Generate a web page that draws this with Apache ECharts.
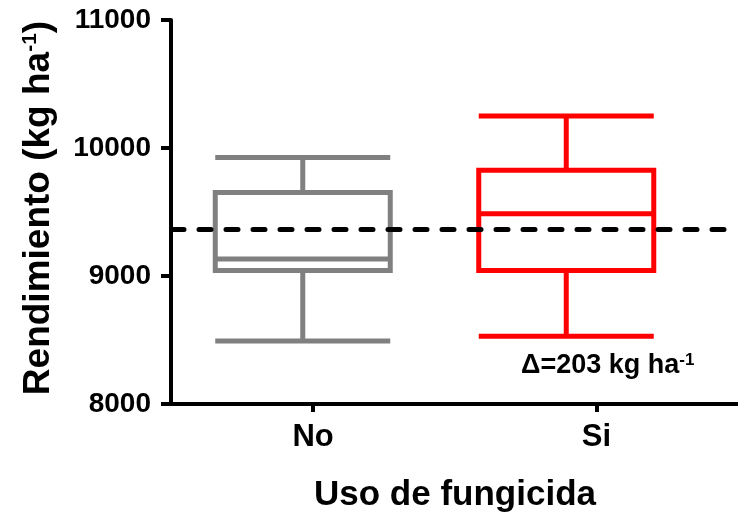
<!DOCTYPE html>
<html>
<head>
<meta charset="utf-8">
<script src="https://cdn.jsdelivr.net/npm/echarts@6/dist/echarts.min.js"></script>
<style>
html,body{margin:0;padding:0;background:#fff;}
#chart{width:738px;height:521px;}
</style>
</head>
<body>
<div id="chart"></div>
<script>
// ---- data ----
const categories = ['No', 'Si'];
// [min, Q1, median, Q3, max]
const noStats = [8492, 9042, 9133, 9652, 9925];
const siStats = [8529, 9042, 9487, 9826, 10250];
const referenceLine = 9362;
const yMin = 8000, yMax = 11000, yStep = 1000;
const deltaText = 'Δ=203 kg ha';

const boxColors = ['#808080', '#ff0000'];
const FONT = '"Liberation Sans", Arial, sans-serif';

const chart = echarts.init(document.getElementById('chart'), null, {renderer: 'canvas'});

const option = {
  animation: false,
  backgroundColor: '#ffffff',
  grid: [
    {left: 171, right: 40, top: 20, bottom: 117},     // boxes
    {left: 171.5, right: -7.5, top: 20, bottom: 117}, // category labels & ticks
    {left: 172, right: -3, top: 20, bottom: 117}      // axis line, name, reference line
  ],
  xAxis: [
    {type: 'category', gridIndex: 0, data: categories, show: false},
    {
      type: 'category', gridIndex: 1, data: categories,
      axisLine: {show: false},
      axisTick: {show: true, alignWithLabel: true, length: 8, lineStyle: {color: '#000', width: 4}},
      axisLabel: {color: '#000', fontSize: 31, fontWeight: 'bold', fontFamily: FONT, margin: 18},
      splitLine: {show: false}
    },
    {
      type: 'category', gridIndex: 2, data: categories,
      axisLine: {show: true, lineStyle: {color: '#000', width: 4}},
      axisTick: {show: false},
      axisLabel: {show: false},
      splitLine: {show: false},
      name: 'Uso de fungicida',
      nameLocation: 'middle',
      nameGap: 74,
      nameTextStyle: {color: '#000', fontSize: 35, fontWeight: 'bold', fontFamily: FONT}
    }
  ],
  yAxis: [
    {
      type: 'value', gridIndex: 0, min: yMin, max: yMax, interval: yStep,
      axisLine: {show: true, lineStyle: {color: '#000', width: 4}},
      axisTick: {show: true, length: 10, lineStyle: {color: '#000', width: 4}},
      axisLabel: {
        color: '#000', fontSize: 28, fontWeight: 'bold', fontFamily: FONT, margin: 20,
        formatter: v => String(v)
      },
      splitLine: {show: false},
      name: '{m|Rendimiento (kg ha}{s|-1}{m|)}',
      nameLocation: 'middle',
      nameGap: 114,
      nameTextStyle: {
        color: '#000', fontFamily: FONT, fontWeight: 'bold',
        padding: [0, 0, 0, 8],
        rich: {
          m: {fontSize: 37, fontWeight: 'bold', fontFamily: FONT, color: '#000'},
          s: {fontSize: 21, fontWeight: 'bold', fontFamily: FONT, color: '#000', verticalAlign: 'top', padding: [0, 0, 15, 0]}
        }
      }
    },
    {type: 'value', gridIndex: 1, min: yMin, max: yMax, interval: yStep, show: false},
    {type: 'value', gridIndex: 2, min: yMin, max: yMax, interval: yStep, show: false}
  ],
  series: [
    {
      type: 'boxplot',
      xAxisIndex: 0, yAxisIndex: 0,
      boxWidth: [175, 175],
      itemStyle: {color: 'rgba(255,255,255,0)', borderWidth: 5},
      emphasis: {disabled: true},
      data: [noStats, siStats].map((v, i) => ({
        value: v,
        itemStyle: {borderColor: boxColors[i], color: 'rgba(255,255,255,0)', borderWidth: 5}
      }))
    },
    {
      type: 'line',
      xAxisIndex: 2, yAxisIndex: 2,
      data: [],
      z: 10,
      markLine: {
        silent: true,
        symbol: ['none', 'none'],
        label: {show: false},
        lineStyle: {color: '#000', width: 5, type: [12, 15], cap: 'round'},
        data: [{yAxis: referenceLine}]
      }
    }
  ],
  graphic: [
    {
      type: 'text',
      left: 521,
      top: 352,
      style: {
        text: '{m|' + deltaText + '}{s|-1}',
        rich: {
          m: {fontSize: 27, fontWeight: 'bold', fontFamily: FONT, fill: '#000'},
          s: {fontSize: 17, fontWeight: 'bold', fontFamily: FONT, fill: '#000', verticalAlign: 'top'}
        }
      }
    }
  ]
};

chart.setOption(option);
</script>
</body>
</html>
